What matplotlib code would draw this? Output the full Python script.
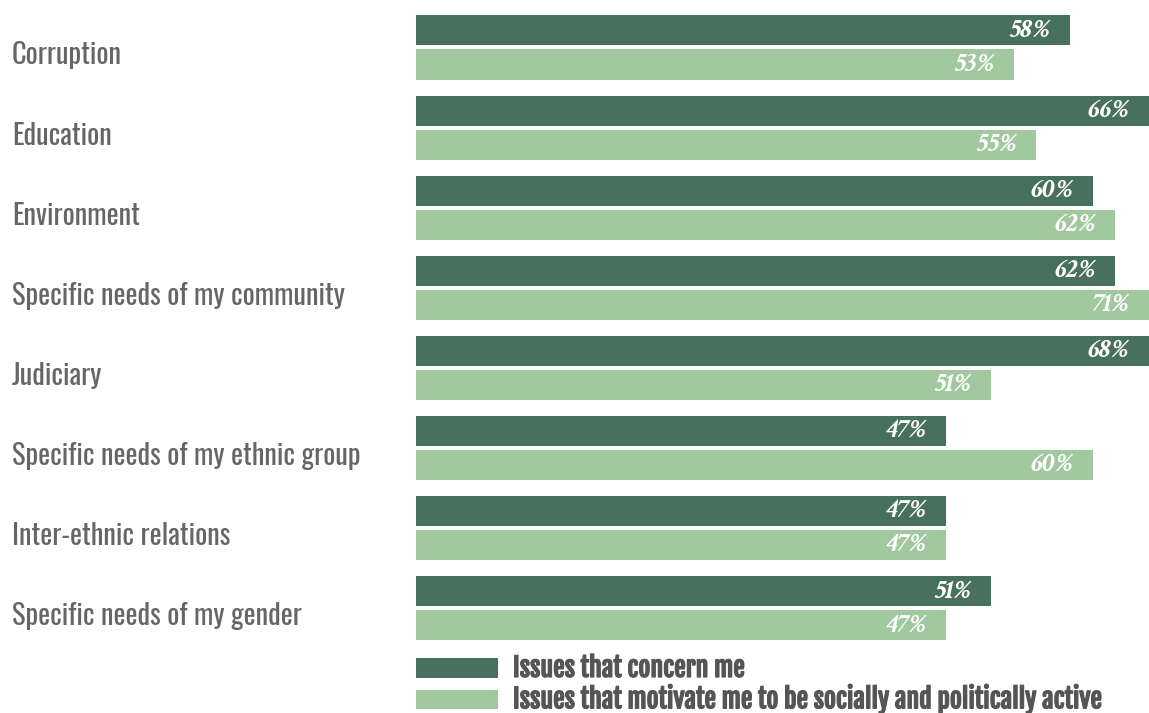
import matplotlib
matplotlib.use("Agg")
import numpy as np
import matplotlib.pyplot as plt
import matplotlib.patheffects as pe
from matplotlib import font_manager

categories = [
    "Corruption",
    "Education",
    "Environment",
    "Specific needs of my community",
    "Judiciary",
    "Specific needs of my ethnic group",
    "Inter-ethnic relations",
    "Specific needs of my gender",
]
concern = [58, 66, 60, 62, 68, 47, 47, 51]
motivate = [53, 55, 62, 71, 51, 60, 47, 47]
series_names = [
    "Issues that concern me",
    "Issues that motivate me to be socially and politically active",
]

dark = "#47705f"
light = "#a2c89f"

installed = {f.name for f in font_manager.fontManager.ttflist}


def pick(candidates, fallback):
    for c in candidates:
        if c in installed:
            return [c, fallback]
    return [fallback]


label_font = pick(["Oswald", "Roboto Condensed"], "DejaVu Sans")
legend_font = pick(["Fjalla One", "Roboto Condensed"], "DejaVu Sans")
value_font = pick(["Crimson Text", "PT Serif", "Liberation Serif"], "DejaVu Serif")

fig = plt.figure(figsize=(11.49, 7.13), dpi=100)
ax = fig.add_axes([416 / 1149, 0, 1 - 416 / 1149, 1])

xmax = 65
y = np.arange(len(categories))
h = 0.375
off = 0.2125

ax.barh(y - off, concern, height=h, color=dark, label=series_names[0])
ax.barh(y + off, motivate, height=h, color=light, label=series_names[1])

# value labels, kept inside the visible part of long bars
pad = 1.7
for yi, v in zip(y - off, concern):
    ax.text(min(v, xmax) - pad, yi, f"{v}%", ha="right", va="center",
            color="white", fontsize=20, fontweight="bold", fontstyle="italic",
            family=value_font)
for yi, v in zip(y + off, motivate):
    ax.text(min(v, xmax) - pad, yi, f"{v}%", ha="right", va="center",
            color="white", fontsize=20, fontweight="bold", fontstyle="italic",
            family=value_font)

# category labels on the left side of the figure
for yi, name in zip(y, categories):
    ax.annotate(name, xy=(0, yi + 0.1), xycoords=("figure fraction", "data"),
                xytext=(12, 0), textcoords="offset pixels",
                ha="left", va="center", fontsize=20.5, color="#666666",
                family=label_font)

ax.set_xlim(0, xmax)
ax.set_ylim(8.31, -0.593)
ax.axis("off")

leg = ax.legend(loc="upper left", bbox_to_anchor=(0, 1 - 653 / 713),
                frameon=False, borderpad=0, borderaxespad=0,
                handlelength=3.15, handleheight=0.77, handletextpad=0.58,
                labelspacing=0.05,
                prop={"family": legend_font, "size": 18.7})
for t in leg.get_texts():
    t.set_color("#555555")
    t.set_path_effects([pe.withStroke(linewidth=0.9, foreground="#555555")])

fig.savefig("out.png", dpi=100)
